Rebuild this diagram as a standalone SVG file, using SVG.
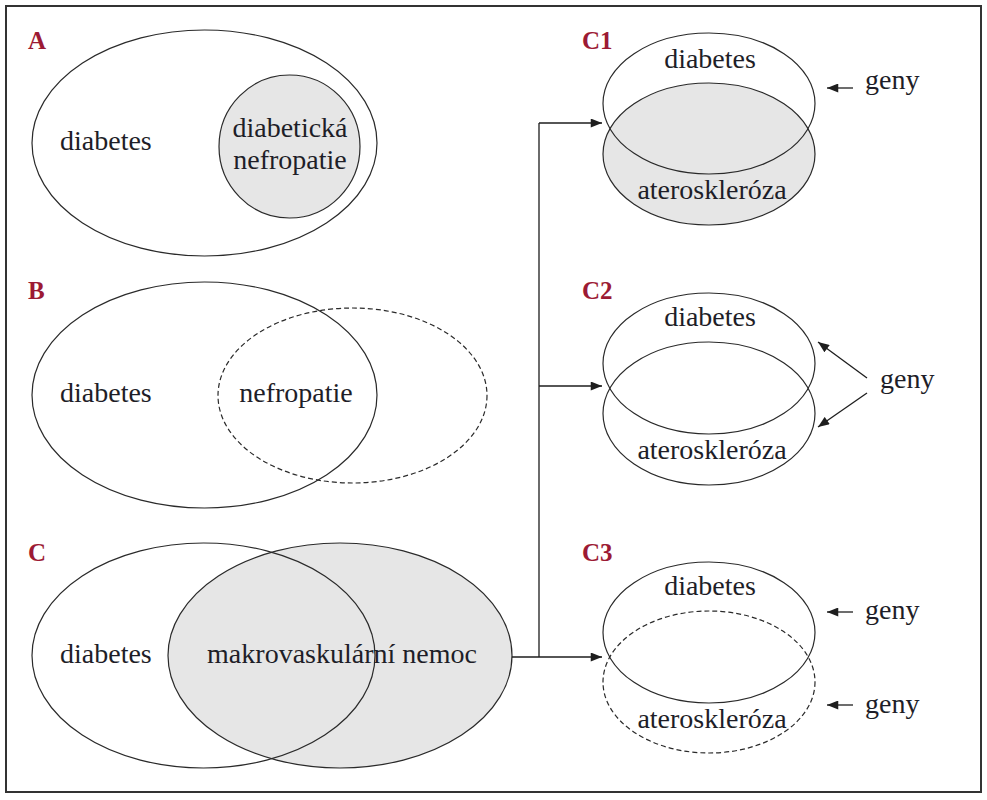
<svg xmlns="http://www.w3.org/2000/svg" width="987" height="800" viewBox="0 0 987 800">
<defs>
<style>
.frame{fill:#fff;stroke:#333;stroke-width:2}
.e{fill:none;stroke:#2a2a2a;stroke-width:1.2}
.g{fill:#e6e6e6;stroke:#2a2a2a;stroke-width:1.2}
.d{fill:none;stroke:#2a2a2a;stroke-width:1.2;stroke-dasharray:5 3}
.t{font-family:"Liberation Serif","DejaVu Serif",serif;font-size:28px;fill:#1e1e28}
.m{text-anchor:middle}
.lab{font-family:"Liberation Serif","DejaVu Serif",serif;font-size:25px;font-weight:bold;fill:#9c1a34}
.c{fill:none;stroke:#1e1e1e;stroke-width:1.3}
</style>
<marker id="ah" viewBox="0 0 10 8" refX="10" refY="4" markerWidth="12" markerHeight="9" markerUnits="userSpaceOnUse" orient="auto">
<path d="M0,0 L10,4 L0,8 Z" fill="#1e1e1e"/>
</marker>
</defs>
<rect class="frame" x="6" y="6" width="975" height="786"/>

<g id="panel-A">
<text class="lab" x="28" y="49">A</text>
<g id="A-diabetes">
<ellipse class="e" cx="204.5" cy="143" rx="172.5" ry="113"/>
<text class="t" x="60" y="150">diabetes</text>
</g>
<g id="A-nefropatie">
<ellipse class="g" cx="289.5" cy="146.5" rx="70.5" ry="71.5"/>
<text class="t m" x="290" y="137">diabetická</text>
<text class="t m" x="290" y="169">nefropatie</text>
</g>
</g>

<g id="panel-B">
<text class="lab" x="28" y="299">B</text>
<g id="B-diabetes">
<ellipse class="e" cx="204.5" cy="395" rx="172.5" ry="113"/>
<text class="t" x="60" y="402">diabetes</text>
</g>
<g id="B-nefropatie">
<ellipse class="d" cx="352.5" cy="395.5" rx="134.5" ry="87.5"/>
<text class="t m" x="296" y="402">nefropatie</text>
</g>
</g>

<g id="panel-C">
<text class="lab" x="28" y="561">C</text>
<g id="C-makro">
<ellipse class="g" cx="340" cy="655.5" rx="172" ry="112.5"/>
</g>
<g id="C-diabetes">
<ellipse class="e" cx="203.5" cy="655.5" rx="171.5" ry="112.5"/>
<text class="t" x="60" y="663">diabetes</text>
</g>
<text class="t m" x="342" y="663">makrovaskulární nemoc</text>
</g>

<g id="panel-C1">
<text class="lab" x="582" y="49">C1</text>
<g id="C1-ateroskleroza">
<ellipse class="g" cx="709" cy="154" rx="106" ry="71"/>
<text class="t m" x="712" y="199">ateroskleróza</text>
</g>
<g id="C1-diabetes">
<ellipse class="e" cx="709" cy="103.5" rx="106" ry="70.5"/>
<text class="t m" x="710" y="68">diabetes</text>
</g>
<g id="C1-geny">
<text class="t" x="865" y="89">geny</text>
</g>
</g>

<g id="panel-C2">
<text class="lab" x="582" y="299">C2</text>
<g id="C2-diabetes">
<ellipse class="e" cx="709" cy="363.5" rx="106" ry="70.5"/>
<text class="t m" x="710" y="326">diabetes</text>
</g>
<g id="C2-ateroskleroza">
<ellipse class="e" cx="709" cy="413.5" rx="106" ry="71.5"/>
<text class="t m" x="712" y="459">ateroskleróza</text>
</g>
<g id="C2-geny">
<text class="t" x="880" y="388">geny</text>
</g>
</g>

<g id="panel-C3">
<text class="lab" x="582" y="561">C3</text>
<g id="C3-diabetes">
<ellipse class="e" cx="709" cy="632.5" rx="106" ry="70.5"/>
<text class="t m" x="710" y="595">diabetes</text>
</g>
<g id="C3-ateroskleroza">
<ellipse class="d" cx="709" cy="682" rx="106" ry="71"/>
<text class="t m" x="712" y="728">ateroskleróza</text>
</g>
<g id="C3-geny1">
<text class="t" x="865" y="619">geny</text>
</g>
<g id="C3-geny2">
<text class="t" x="865" y="713">geny</text>
</g>
</g>

<g id="connectors">
<path class="c" d="M512,657 H539 M539,123 V657"/>
<line class="c" x1="539" y1="123" x2="602" y2="123" marker-end="url(#ah)"/>
<line class="c" x1="539" y1="386" x2="602" y2="386" marker-end="url(#ah)"/>
<line class="c" x1="539" y1="657" x2="602" y2="657" marker-end="url(#ah)"/>
<line class="c" x1="853" y1="88" x2="827" y2="88" marker-end="url(#ah)"/>
<line class="c" x1="867" y1="378" x2="818" y2="342" marker-end="url(#ah)"/>
<line class="c" x1="867" y1="393" x2="818" y2="427" marker-end="url(#ah)"/>
<line class="c" x1="853" y1="612" x2="827" y2="612" marker-end="url(#ah)"/>
<line class="c" x1="853" y1="705" x2="827" y2="705" marker-end="url(#ah)"/>
</g>
</svg>
